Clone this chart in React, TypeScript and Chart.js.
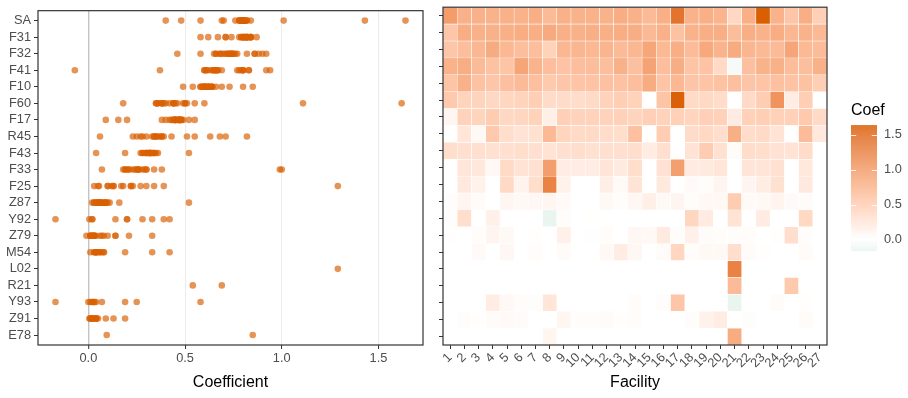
import { useEffect, useRef } from 'react';
import { Chart, registerables } from 'chart.js';

Chart.register(...registerables);
Chart.defaults.font.family = "'Liberation Sans', Arial, sans-serif";

// Diagnosis categories, top to bottom
const categories = ['SA', 'F31', 'F32', 'F41', 'F10', 'F60', 'F17', 'R45', 'F43', 'F33', 'F25', 'Z87', 'Y92', 'Z79', 'M54', 'L02', 'R21', 'Y93', 'Z91', 'E78'];
// Facility labels along the heatmap x axis
const facilities = ['1', '2', '3', '4', '5', '6', '7', '8', '9', '10', '11', '12', '13', '14', '15', '16', '17', '18', '19', '20', '21', '22', '23', '24', '25', '26', '27'];
const coefBreaks = [0, 0.5, 1, 1.5];

// Coefficient per facility (1..27) for each category; null = not estimated
const coefSA = [1.01, 0.80, 0.80, 0.78, 0.80, 0.79, 0.82, 0.70, 0.80, 0.78, 0.79, 0.78, 0.84, 0.80, 0.69, 0.81, 1.43, 0.79, 0.81, 0.76, 0.40, 0.81, 1.64, 0.79, 0.58, 0.82, 0.48];
const coefF31 = [0.58, 0.84, 0.80, 0.80, 0.81, 0.84, 0.82, 0.87, 0.81, 0.80, 0.82, 0.81, 0.84, 0.83, 0.71, 0.80, 0.62, 0.79, 0.82, 0.82, 0.67, 0.82, 0.79, 0.84, 0.74, 0.78, 0.71];
const coefF32 = [0.58, 0.66, 0.74, 0.86, 0.73, 0.65, 0.66, 0.46, 0.74, 0.75, 0.73, 0.76, 0.70, 0.74, 0.90, 0.72, 0.82, 0.68, 0.88, 0.77, 0.86, 0.75, 0.71, 0.69, 0.92, 0.72, 0.68];
const coefF41 = [0.79, 0.83, 0.69, 0.62, 0.60, 0.92, 0.77, 0.66, 0.61, 0.66, 0.67, 0.65, 0.80, 0.64, 0.94, 0.66, 0.83, 0.60, 0.61, 0.37, -0.07, 0.64, 0.78, 0.80, 0.67, 0.65, 0.80];
const coefF10 = [0.60, 0.80, 0.62, 0.58, 0.64, 0.69, 0.64, 0.54, 0.58, 0.60, 0.61, 0.63, 0.62, 0.66, 0.85, 0.60, 0.73, 0.59, 0.60, 0.62, 0.64, 0.59, 0.60, 0.63, 0.61, 0.62, 0.49];
const coefF60 = [0.55, 0.44, 0.44, 0.40, 0.42, 0.44, 0.49, 0.36, 0.36, 0.35, 0.38, 0.45, 0.50, 0.46, null, 0.60, 1.62, 0.38, 0.39, 0.35, null, 0.38, 0.51, 1.11, 0.18, 0.50, null];
const coefF17 = [0.09, 0.45, 0.44, 0.52, 0.40, 0.42, 0.46, 0.155, 0.48, 0.45, 0.45, 0.45, 0.47, 0.44, 0.48, 0.45, 0.47, 0.43, 0.48, 0.47, 0.20, 0.47, 0.49, 0.47, 0.47, 0.55, 0.38];
const coefR45 = [null, 0.25, 0.06, 0.55, 0.34, 0.28, 0.30, 0.71, 0.43, 0.37, 0.38, 0.35, 0.34, 0.63, null, 0.51, null, 0.36, 0.39, 0.33, 0.82, 0.35, 0.38, 0.27, null, 0.68, 0.23];
const coefF43 = [0.34, 0.31, 0.32, 0.30, 0.32, 0.34, 0.32, 0.28, 0.31, 0.33, 0.30, 0.32, 0.31, 0.33, 0.19, 0.32, null, 0.28, 0.52, 0.30, 0.04, 0.35, 0.34, 0.29, 0.27, 0.36, null];
const coefF33 = [null, 0.25, 0.24, 0.07, 0.38, 0.28, 0.30, 1.00, 0.18, 0.19, 0.19, 0.26, 0.21, 0.34, null, 0.29, 0.99, 0.20, 0.21, 0.25, null, 0.26, 0.26, 0.30, null, 0.23, null];
const coefF25 = [null, 0.22, 0.13, null, 0.39, 0.12, 0.34, 1.29, 0.13, null, null, 0.17, 0.05, 0.27, null, 0.23, null, 0.055, 0.03, 0.10, null, 0.10, 0.18, 0.30, null, 0.22, null];
const coefZ87 = [0.02, 0.09, 0.04, null, 0.09, 0.06, 0.08, 0.09, 0.05, null, null, 0.06, 0.03, 0.08, 0.16, 0.06, 0.10, 0.03, 0.07, 0.06, 0.52, 0.05, 0.06, 0.11, 0.05, 0.04, null];
const coefY92 = [0.02, 0.33, null, 0.14, null, null, null, -0.17, 0.02, null, 0.005, null, null, null, null, null, null, 0.42, 0.20, null, 0.28, null, 0.20, null, null, 0.39, null];
const coefZ79 = [0.01, null, 0.03, 0.10, 0.06, null, 0.01, null, 0.14, null, -0.01, 0.03, null, 0.08, 0.07, 0.21, 0.02, 0.14, 0.04, 0.03, 0.02, 0.03, null, 0.01, 0.33, 0.02, null];
const coefM54 = [null, null, 0.05, null, 0.08, null, 0.03, null, 0.04, null, null, 0.07, 0.19, 0.08, null, 0.04, 0.42, 0.03, 0.06, 0.06, 0.33, 0.04, 0.01, null, null, 0.04, null];
const coefL02 = [null, null, null, null, null, null, null, null, null, null, null, null, null, null, null, null, null, null, null, null, 1.29, null, null, null, null, null, null];
const coefR21 = [null, null, null, null, null, null, null, null, null, null, null, null, null, null, null, null, null, null, null, null, 0.69, null, null, null, 0.54, null, null];
const coefY93 = [null, null, 0.00, 0.19, 0.07, 0.03, 0.02, 0.25, null, null, null, null, null, 0.03, null, 0.02, 0.58, null, null, null, -0.17, null, null, 0.04, null, 0.01, null];
const coefZ91 = [null, 0.02, 0.01, 0.04, 0.05, 0.04, null, null, 0.09, 0.02, 0.02, 0.04, 0.01, 0.03, null, null, null, 0.02, 0.13, 0.19, 0.005, 0.02, null, null, null, 0.04, null];
const coefE78 = [null, null, null, null, null, null, null, 0.095, null, null, null, null, null, null, null, null, null, null, null, null, 0.85, null, null, null, null, null, null];

const coefRows: (number | null)[][] = [
  coefSA, coefF31, coefF32, coefF41, coefF10, coefF60, coefF17, coefR45, coefF43, coefF33,
  coefF25, coefZ87, coefY92, coefZ79, coefM54, coefL02, coefR21, coefY93, coefZ91, coefE78,
];

const allValues = coefRows.flat().filter((v): v is number => v !== null);
const coefMin = Math.min(...allValues);
const coefMax = Math.max(...allValues);
const coefAbsMax = Math.max(Math.abs(coefMin), Math.abs(coefMax));

// ---- diverging fill (low / mid / high), interpolated in CIELAB ----
type Triple = [number, number, number];
const hexToRgb = (h: string): Triple => {
  const n = parseInt(h.slice(1), 16);
  return [(n >> 16) & 255, (n >> 8) & 255, n & 255];
};
const toLin = (c: number) => {
  const s = c / 255;
  return s <= 0.04045 ? s / 12.92 : Math.pow((s + 0.055) / 1.055, 2.4);
};
const fromLin = (c: number) => {
  const s = c <= 0.0031308 ? 12.92 * c : 1.055 * Math.pow(c, 1 / 2.4) - 0.055;
  return Math.round(Math.min(1, Math.max(0, s)) * 255);
};
const WX = 0.95047, WY = 1.0, WZ = 1.08883;
const EPS = 216 / 24389, KAPPA = 24389 / 27;
const fLab = (t: number) => (t > EPS ? Math.cbrt(t) : (KAPPA * t + 16) / 116);
const fInv = (t: number) => (t * t * t > EPS ? t * t * t : (116 * t - 16) / KAPPA);
const rgbToLab = ([r, g, b]: Triple): Triple => {
  const R = toLin(r), G = toLin(g), B = toLin(b);
  const X = (0.4124564 * R + 0.3575761 * G + 0.1804375 * B) / WX;
  const Y = (0.2126729 * R + 0.7151522 * G + 0.072175 * B) / WY;
  const Z = (0.0193339 * R + 0.119192 * G + 0.9503041 * B) / WZ;
  const fx = fLab(X), fy = fLab(Y), fz = fLab(Z);
  return [116 * fy - 16, 500 * (fx - fy), 200 * (fy - fz)];
};
const labToCss = ([L, a, b]: Triple): string => {
  const fy = (L + 16) / 116, fx = fy + a / 500, fz = fy - b / 200;
  const X = fInv(fx) * WX, Y = fInv(fy) * WY, Z = fInv(fz) * WZ;
  const R = 3.2404542 * X - 1.5371385 * Y - 0.4985314 * Z;
  const G = -0.969266 * X + 1.8760108 * Y + 0.041556 * Z;
  const B = 0.0556434 * X - 0.2040259 * Y + 1.0572252 * Z;
  return `rgb(${fromLin(R)}, ${fromLin(G)}, ${fromLin(B)})`;
};
const lowLab = rgbToLab(hexToRgb('#1b9e77'));
const midLab = rgbToLab(hexToRgb('#ffffff'));
const highLab = rgbToLab(hexToRgb('#d95f02'));

function coefColour(v: number): string {
  const t = Math.min(1, Math.abs(v) / coefAbsMax);
  const end = v < 0 ? lowLab : highLab;
  return labToCss([
    midLab[0] + (end[0] - midLab[0]) * t,
    midLab[1] + (end[1] - midLab[1]) * t,
    midLab[2] + (end[2] - midLab[2]) * t,
  ]);
}

const tickText = '#4D4D4D';
const tickMark = '#333333';
const dotColour = 'rgba(217, 95, 2, 0.67)';

const panelBorder = {
  id: 'panelBorder',
  afterDraw(chart: any) {
    const { ctx, chartArea } = chart;
    ctx.save();
    ctx.strokeStyle = tickMark;
    ctx.lineWidth = 1.2;
    ctx.strokeRect(chartArea.left, chartArea.top, chartArea.right - chartArea.left, chartArea.bottom - chartArea.top);
    ctx.restore();
  },
};

const colourBar = {
  id: 'colourBar',
  afterDraw(chart: any) {
    const { ctx, chartArea } = chart;
    const x0 = chartArea.right + 24;
    const w = 26;
    const top = chartArea.top + 118;
    const h = 126;
    const span = coefMax - coefMin;
    const yFor = (v: number) => top + h - ((v - coefMin) / span) * h;
    ctx.save();
    for (let k = 0; k < h; k++) {
      const v = coefMax - ((k + 0.5) / h) * span;
      ctx.fillStyle = coefColour(v);
      ctx.fillRect(x0, top + k, w, 1.05);
    }
    ctx.strokeStyle = 'rgba(255, 255, 255, 0.85)';
    ctx.lineWidth = 1;
    ctx.font = "12.8px 'Liberation Sans', Arial, sans-serif";
    ctx.fillStyle = tickText;
    ctx.textAlign = 'left';
    ctx.textBaseline = 'middle';
    coefBreaks.forEach((b) => {
      const y = Math.round(yFor(b)) + 0.5;
      ctx.beginPath();
      ctx.moveTo(x0, y);
      ctx.lineTo(x0 + w * 0.2, y);
      ctx.moveTo(x0 + w * 0.8, y);
      ctx.lineTo(x0 + w, y);
      ctx.stroke();
      ctx.fillText(b.toFixed(1), x0 + w + 7, yFor(b));
    });
    ctx.fillStyle = '#000000';
    ctx.font = "16px 'Liberation Sans', Arial, sans-serif";
    ctx.fillText('Coef', x0, top - 14.5);
    ctx.restore();
  },
};

export default function App() {
  const leftRef = useRef<HTMLCanvasElement>(null);
  const rightRef = useRef<HTMLCanvasElement>(null);

  useEffect(() => {
    const charts: Chart[] = [];
    const pad = 0.05 * (coefMax - coefMin);

    const dotPoints: { x: number; y: number }[] = [];
    coefRows.forEach((row, i) => {
      row.forEach((v) => {
        if (v !== null) dotPoints.push({ x: v, y: i });
      });
    });

    if (leftRef.current) {
      charts.push(
        new Chart(leftRef.current, {
          type: 'scatter',
          data: {
            datasets: [
              {
                data: dotPoints,
                backgroundColor: dotColour,
                borderWidth: 0,
                pointRadius: 3.3,
                pointHoverRadius: 3.3,
              },
            ],
          },
          options: {
            animation: false,
            responsive: false,
            events: [],
            layout: { padding: { top: 7, right: 7, left: 0, bottom: 0 } },
            plugins: { legend: { display: false }, tooltip: { enabled: false } },
            scales: {
              x: {
                type: 'linear',
                min: coefMin - pad,
                max: coefMax + pad,
                afterBuildTicks: (s: any) => {
                  s.ticks = coefBreaks.map((v) => ({ value: v }));
                },
                afterFit: (s: any) => {
                  s.height = 53;
                },
                ticks: {
                  callback: (v: any) => Number(v).toFixed(1),
                  color: tickText,
                  font: { size: 12.8 },
                  padding: 2,
                  maxRotation: 0,
                },
                grid: {
                  color: (c: any) => (c.tick && c.tick.value === 0 ? '#C4C4C4' : '#EBEBEB'),
                  lineWidth: (c: any) => (c.tick && c.tick.value === 0 ? 1.4 : 1.1),
                  drawTicks: true,
                  tickLength: 4,
                  tickColor: tickMark,
                  tickWidth: 1,
                },
                border: { display: false },
                title: {
                  display: true,
                  text: 'Coefficient',
                  color: '#000000',
                  font: { size: 16 },
                  padding: { top: 0, bottom: 5.4 },
                },
              },
              y: {
                type: 'linear',
                min: -0.6,
                max: categories.length - 0.4,
                reverse: true,
                afterBuildTicks: (s: any) => {
                  s.ticks = categories.map((_, i) => ({ value: i }));
                },
                afterFit: (s: any) => {
                  s.width = 38;
                },
                ticks: {
                  callback: (v: any) => categories[v] ?? '',
                  color: tickText,
                  font: { size: 12.8 },
                  padding: 3,
                  autoSkip: false,
                },
                grid: { drawOnChartArea: false, drawTicks: true, tickLength: 4, tickColor: tickMark, tickWidth: 1 },
                border: { display: false },
              },
            },
          },
          plugins: [panelBorder],
        } as any)
      );
    }

    if (rightRef.current) {
      const heatDatasets = coefRows.map((row, i) => ({
        data: row.map((v) => (v === null ? null : [i - 0.5, i + 0.5])),
        backgroundColor: row.map((v) => (v === null ? 'rgba(0,0,0,0)' : coefColour(v))),
        borderColor: '#ffffff',
        borderWidth: 0.55,
        borderSkipped: false,
        grouped: false,
        categoryPercentage: 1,
        barPercentage: 1,
      }));

      charts.push(
        new Chart(rightRef.current, {
          type: 'bar',
          data: { labels: facilities, datasets: heatDatasets },
          options: {
            animation: false,
            responsive: false,
            events: [],
            layout: { padding: { top: 7, right: 81, left: 0, bottom: 0 } },
            plugins: { legend: { display: false }, tooltip: { enabled: false } },
            scales: {
              x: {
                type: 'category',
                offset: true,
                afterFit: (s: any) => {
                  s.height = 53;
                },
                ticks: {
                  color: tickText,
                  font: { size: 12.8 },
                  maxRotation: 45,
                  minRotation: 45,
                  autoSkip: false,
                  padding: 1,
                },
                grid: {
                  offset: false,
                  drawOnChartArea: false,
                  drawTicks: true,
                  tickLength: 4,
                  tickColor: tickMark,
                  tickWidth: 1,
                },
                border: { display: false },
                title: {
                  display: true,
                  text: 'Facility',
                  color: '#000000',
                  font: { size: 16 },
                  padding: { top: 0, bottom: 5.4 },
                },
              },
              y: {
                type: 'linear',
                min: -0.5,
                max: categories.length - 0.5,
                reverse: true,
                afterBuildTicks: (s: any) => {
                  s.ticks = categories.map((_, i) => ({ value: i }));
                },
                afterFit: (s: any) => {
                  s.width = 13;
                },
                ticks: { callback: () => '', padding: 0 },
                grid: { drawOnChartArea: false, drawTicks: true, tickLength: 4, tickColor: tickMark, tickWidth: 1 },
                border: { display: false },
              },
            },
          },
          plugins: [panelBorder, colourBar],
        } as any)
      );
    }

    return () => charts.forEach((c) => c.destroy());
  }, []);

  return (
    <div style={{ position: 'fixed', left: 0, top: 0, width: 908, height: 398, background: '#ffffff' }}>
      <canvas ref={leftRef} width={430} height={398} style={{ position: 'absolute', left: 0, top: 0 }} />
      <canvas ref={rightRef} width={478} height={398} style={{ position: 'absolute', left: 430, top: 0 }} />
    </div>
  );
}
